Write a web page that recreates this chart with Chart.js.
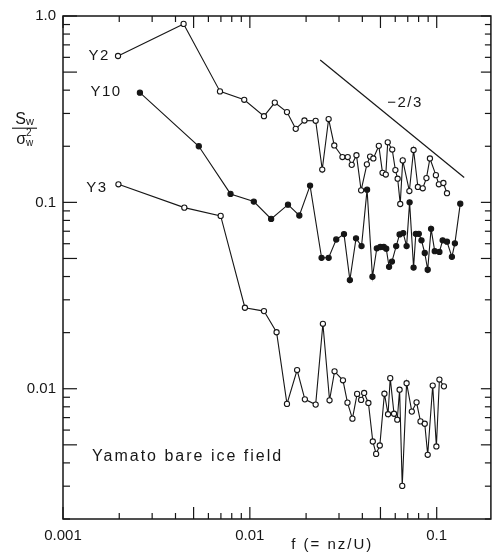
<!DOCTYPE html>
<html lang="en">
<head>
  <meta charset="UTF-8">
  <title>Yamato bare ice field spectra</title>
  <script src="https://cdn.jsdelivr.net/npm/chart.js"></script>
  <style>
    body { margin: 0; background: #fff; }
  </style>
</head>
<body>
  <canvas id="spec" width="496" height="555"></canvas>

  <script>
    // normalised spectra Sw / sigma_w^2 against f = nz/U
    const y2F = [0.00197, 0.00442, 0.00692, 0.00933, 0.0119, 0.0136, 0.0158, 0.0176, 0.0196, 0.0225,
                 0.0244, 0.0264, 0.0283, 0.0313, 0.0334, 0.0351, 0.0372, 0.0394, 0.0423, 0.0440,
                 0.0458, 0.0490, 0.0513, 0.0534, 0.0547, 0.0578, 0.0601, 0.0618, 0.0638, 0.0658,
                 0.0714, 0.0752, 0.0793, 0.0842, 0.0881, 0.0920, 0.0990, 0.1027, 0.1086, 0.1135];
    const y2S = [0.610, 0.907, 0.394, 0.355, 0.290, 0.343, 0.305, 0.248, 0.275, 0.274,
                 0.150, 0.280, 0.202, 0.175, 0.175, 0.159, 0.179, 0.116, 0.160, 0.176,
                 0.172, 0.201, 0.144, 0.141, 0.210, 0.192, 0.149, 0.134, 0.098, 0.168,
                 0.115, 0.191, 0.121, 0.119, 0.135, 0.172, 0.140, 0.125, 0.127, 0.112];

    const y10F = [0.00258, 0.00533, 0.00788, 0.0105, 0.0130, 0.0160, 0.0184, 0.0210, 0.0242, 0.0264,
                  0.0290, 0.0319, 0.0343, 0.0370, 0.0396, 0.0424, 0.0453, 0.0478, 0.0499, 0.0521,
                  0.0537, 0.0556, 0.0576, 0.0607, 0.0633, 0.0662, 0.0690, 0.0716, 0.0752, 0.0773,
                  0.0802, 0.0829, 0.0863, 0.0895, 0.0933, 0.0976, 0.1034, 0.1076, 0.1135, 0.1206,
                  0.1251, 0.1337];
    const y10S = [0.388, 0.200, 0.111, 0.101, 0.0815, 0.0972, 0.0850, 0.123, 0.0504, 0.0504,
                  0.0632, 0.0676, 0.0383, 0.0641, 0.0583, 0.117, 0.0399, 0.0567, 0.0576, 0.0576,
                  0.0564, 0.0451, 0.0481, 0.0583, 0.0673, 0.0684, 0.0583, 0.100, 0.0447, 0.0678,
                  0.0678, 0.0626, 0.0535, 0.0435, 0.0721, 0.0547, 0.0542, 0.0626, 0.0615, 0.0510,
                  0.0603, 0.0984];

    const y3F = [0.00198, 0.00446, 0.00698, 0.00941, 0.0119, 0.0139, 0.0158, 0.0179, 0.0197, 0.0225,
                 0.0246, 0.0267, 0.0284, 0.0315, 0.0333, 0.0354, 0.0375, 0.0394, 0.0409, 0.0431,
                 0.0455, 0.0474, 0.0496, 0.0525, 0.0549, 0.0564, 0.0591, 0.0615, 0.0633, 0.0654,
                 0.0690, 0.0736, 0.0780, 0.0819, 0.0863, 0.0895, 0.0952, 0.0996, 0.1034, 0.1093];
    const y3S = [0.125, 0.0937, 0.0846, 0.0272, 0.0261, 0.0201, 0.00829, 0.0126, 0.00877, 0.00822,
                 0.0223, 0.00867, 0.0124, 0.0111, 0.00842, 0.00691, 0.00938, 0.00871, 0.00949, 0.00839,
                 0.00521, 0.00447, 0.00496, 0.00940, 0.00730, 0.0114, 0.00734, 0.00682, 0.00988, 0.00301,
                 0.0107, 0.00754, 0.00845, 0.00668, 0.00649, 0.00442, 0.0104, 0.00490, 0.0112, 0.0103];

    // the -2/3 slope guide
    const slopeF = [0.0238, 0.1403];
    const slopeS = [0.581, 0.136];

    const xTicks = [0.001, 0.01, 0.1];
    const xTickLabels = ['0.001', '0.01', '0.1'];
    const yTicks = [0.01, 0.1, 1];
    const yTickLabels = ['0.01', '0.1', '1.0'];

    const ink = '#161616';
    const font = '"Liberation Sans", Arial, sans-serif';

    const pts = (xs, ys) => xs.map((f, i) => ({ x: f, y: ys[i] }));

    function series(xs, ys, filled) {
      return {
        data: pts(xs, ys),
        borderColor: ink,
        borderWidth: 1.1,
        pointRadius: 2.6,
        pointBorderWidth: 1.1,
        pointBorderColor: ink,
        pointBackgroundColor: filled ? ink : '#fff',
        tension: 0
      };
    }

    // frame, inside ticks and the free text of the figure
    const decor = {
      id: 'decor',
      afterDraw(chart) {
        const { ctx, chartArea: a, scales: { x, y } } = chart;
        ctx.save();
        ctx.strokeStyle = ink;
        ctx.lineWidth = 1.5;
        ctx.strokeRect(a.left, a.top, a.right - a.left, a.bottom - a.top);

        ctx.lineWidth = 1.2;
        const seg = (x1, y1, x2, y2) => { ctx.beginPath(); ctx.moveTo(x1, y1); ctx.lineTo(x2, y2); ctx.stroke(); };
        for (let e = -3; e <= 0; e++) {
          for (let m = 1; m <= 9; m++) {
            const v = m * Math.pow(10, e);
            const big = (m === 1 || m === 5);
            if (v >= x.min * 0.999 && v <= x.max) {
              const px = x.getPixelForValue(v);
              seg(px, a.bottom, px, a.bottom - (big ? 12 : 6));
              seg(px, a.top, px, a.top + (big ? 12 : 6));
            }
            if (v >= y.min * 0.999 && v <= y.max * 1.001) {
              const py = y.getPixelForValue(v);
              seg(a.left, py, a.left + (big ? 14 : 7), py);
              seg(a.right, py, a.right - (big ? 10 : 6), py);
            }
          }
        }

        ctx.fillStyle = ink;
        ctx.textBaseline = 'middle';
        ctx.font = '15px ' + font;
        ctx.letterSpacing = '1.5px';
        ctx.textAlign = 'right';
        ctx.fillText('Y2', x.getPixelForValue(0.00178), y.getPixelForValue(0.613));
        ctx.fillText('Y10', x.getPixelForValue(0.00206), y.getPixelForValue(0.394));
        ctx.fillText('Y3', x.getPixelForValue(0.00173), y.getPixelForValue(0.120));
        ctx.textAlign = 'center';
        ctx.fillText('\u22122/3', x.getPixelForValue(0.0677), y.getPixelForValue(0.340));

        ctx.font = '16px ' + font;
        ctx.letterSpacing = '2px';
        ctx.textAlign = 'left';
        ctx.fillText('Yamato bare ice field', x.getPixelForValue(0.00143), y.getPixelForValue(0.00435));

        ctx.font = '15px ' + font;
        ctx.textAlign = 'center';
        ctx.fillText('f (= nz/U)', x.getPixelForValue(0.0276), a.bottom + 26);

        // y title: Sw over sigma_w squared
        const cx = a.left - 38, cy = y.getPixelForValue(0.25);
        ctx.letterSpacing = '0px';
        ctx.font = '16px ' + font;
        ctx.textAlign = 'right';
        ctx.fillText('S', cx + 1, cy - 9);
        ctx.font = '11px ' + font;
        ctx.textAlign = 'left';
        ctx.fillText('w', cx + 1, cy - 6);
        ctx.lineWidth = 1.1;
        seg(cx - 13, cy, cx + 12, cy);
        ctx.font = '16px ' + font;
        ctx.textAlign = 'right';
        ctx.fillText('\u03c3', cx + 1, cy + 11);
        ctx.font = '10px ' + font;
        ctx.textAlign = 'left';
        ctx.fillText('w', cx + 1, cy + 15);
        ctx.fillText('2', cx + 1, cy + 5);
        ctx.restore();
      }
    };

    new Chart(document.getElementById('spec'), {
      type: 'line',
      data: {
        datasets: [
          series(y2F, y2S, false),
          series(y10F, y10S, true),
          series(y3F, y3S, false),
          {
            data: pts(slopeF, slopeS),
            borderColor: ink,
            borderWidth: 1.2,
            pointRadius: 0
          }
        ]
      },
      options: {
        responsive: false,
        animation: false,
        layout: { padding: { top: 13, right: 3, left: 0, bottom: 0 } },
        plugins: { legend: { display: false }, tooltip: { enabled: false } },
        scales: {
          x: {
            type: 'logarithmic',
            min: 0.001,
            max: 0.195,
            afterFit: s => { s.height = 36; },
            afterBuildTicks: s => { s.ticks = xTicks.map(v => ({ value: v })); },
            grid: { display: false, drawTicks: false },
            border: { display: false },
            ticks: {
              autoSkip: false,
              maxRotation: 0,
              padding: 8,
              color: ink,
              font: { family: font, size: 15 },
              callback: v => xTickLabels[xTicks.findIndex(t => Math.abs(t - v) < t * 1e-6)] ?? ''
            }
          },
          y: {
            type: 'logarithmic',
            min: 0.002,
            max: 1,
            afterFit: s => { s.width = 63; },
            afterBuildTicks: s => { s.ticks = yTicks.map(v => ({ value: v })); },
            grid: { display: false, drawTicks: false },
            border: { display: false },
            ticks: {
              autoSkip: false,
              padding: 7,
              color: ink,
              font: { family: font, size: 15 },
              callback: v => yTickLabels[yTicks.findIndex(t => Math.abs(t - v) < t * 1e-6)] ?? ''
            }
          }
        }
      },
      plugins: [decor]
    });
  </script>
</body>
</html>
